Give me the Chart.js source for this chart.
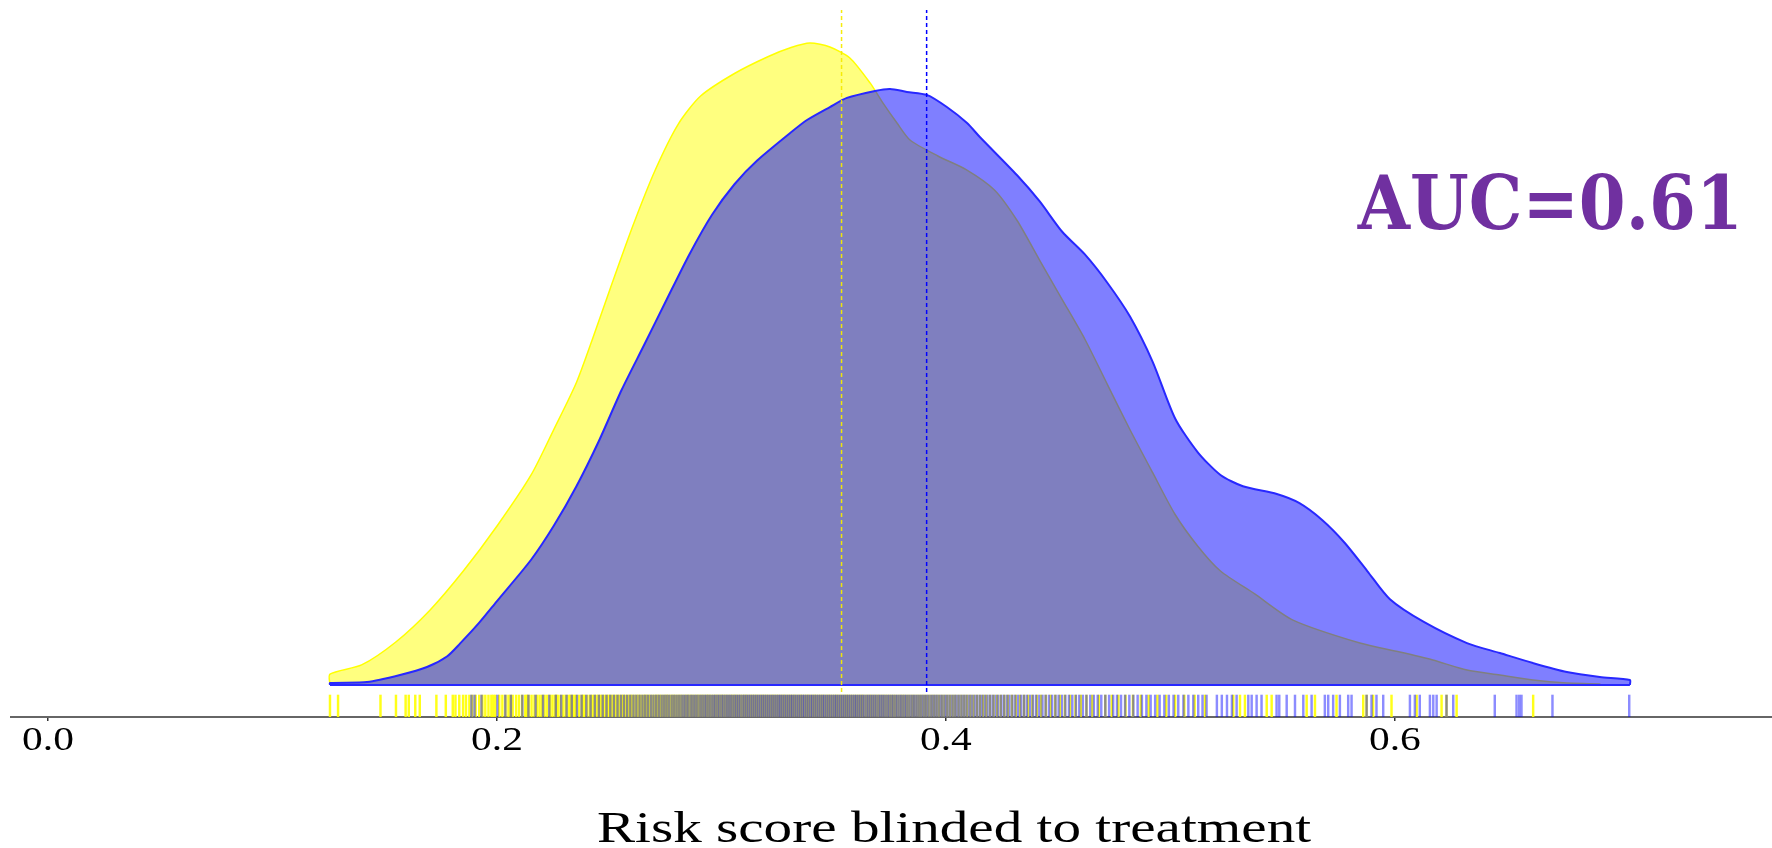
<!DOCTYPE html>
<html>
<head>
<meta charset="utf-8">
<title>Risk score density</title>
<script src="https://cdn.jsdelivr.net/npm/chart.js@4.4.1/dist/chart.umd.min.js"></script>
<style>
  html, body { margin: 0; padding: 0; background: #fff; }
  #chart { display: block; }
</style>
</head>
<body>
<canvas id="chart" width="1772" height="848"></canvas>
<script>
// density curve of the yellow group (risk score, density)
const yellowX = [0.1256, 0.1256, 0.1397, 0.1548, 0.1699, 0.1850, 0.2001, 0.2152, 0.2253, 0.2354, 0.2429, 0.2505, 0.2605, 0.2706, 0.2807, 0.2907, 0.3058, 0.3209, 0.3310, 0.3394, 0.3483, 0.3572, 0.3662, 0.3719, 0.3782, 0.3840, 0.3964, 0.4090, 0.4216, 0.4317, 0.4417, 0.4518, 0.4619, 0.4719, 0.4820, 0.4921, 0.5021, 0.5122, 0.5223, 0.5374, 0.5546, 0.5844, 0.6022, 0.6169, 0.6321, 0.6468, 0.6615, 0.6766, 0.6913, 0.6913];
const yellowY = [0, 0.077, 0.141, 0.300, 0.521, 0.799, 1.116, 1.472, 1.790, 2.120, 2.440, 2.780, 3.216, 3.612, 3.929, 4.127, 4.285, 4.404, 4.467, 4.499, 4.471, 4.394, 4.219, 4.079, 3.938, 3.819, 3.707, 3.612, 3.469, 3.255, 2.978, 2.701, 2.423, 2.107, 1.789, 1.488, 1.195, 0.973, 0.799, 0.640, 0.455, 0.294, 0.231, 0.175, 0.105, 0.070, 0.035, 0.014, 0.007, 0];

// density curve of the blue group
const blueX = [0.1256, 0.1256, 0.1421, 0.1568, 0.1688, 0.1777, 0.1835, 0.1920, 0.2001, 0.2152, 0.2253, 0.2354, 0.2454, 0.2555, 0.2656, 0.2756, 0.2857, 0.2958, 0.3058, 0.3159, 0.3310, 0.3381, 0.3483, 0.3559, 0.3684, 0.3751, 0.3826, 0.3915, 0.4004, 0.4094, 0.4151, 0.4317, 0.4417, 0.4518, 0.4619, 0.4719, 0.4820, 0.4921, 0.5021, 0.5122, 0.5223, 0.5323, 0.5474, 0.5575, 0.5676, 0.5776, 0.5877, 0.5978, 0.6129, 0.6321, 0.6468, 0.6615, 0.6766, 0.6913, 0.7047, 0.7047];
const blueY = [0, 0.014, 0.021, 0.070, 0.126, 0.200, 0.290, 0.435, 0.590, 0.878, 1.116, 1.393, 1.710, 2.067, 2.384, 2.701, 3.017, 3.295, 3.509, 3.675, 3.873, 3.959, 4.050, 4.114, 4.163, 4.177, 4.156, 4.135, 4.050, 3.938, 3.840, 3.572, 3.390, 3.176, 3.017, 2.819, 2.582, 2.265, 1.868, 1.631, 1.472, 1.393, 1.338, 1.274, 1.156, 0.997, 0.799, 0.601, 0.442, 0.294, 0.224, 0.154, 0.091, 0.056, 0.035, 0];

// group means (dashed lines)
const yellowMean = 0.3535;
const blueMean = 0.3914;

// individual scores shown as rug
const yellowRug = [0.1256, 0.1292, 0.1481, 0.1550, 0.1593, 0.1607, 0.1636, 0.1656, 0.1730, 0.1772, 0.1803, 0.1815, 0.1832, 0.1849,
  0.1862, 0.1890, 0.1921, 0.1948, 0.1975, 0.1993, 0.2024, 0.2051, 0.2070, 0.2098, 0.2126, 0.2141, 0.2167, 0.2190, 0.2212, 0.2236, 0.2258, 0.2271, 0.2295, 0.2318,
  0.2334, 0.2352, 0.2377, 0.2391, 0.2415, 0.2433, 0.2452, 0.2468, 0.2487, 0.2503, 0.2521, 0.2538, 0.2556, 0.2571, 0.2589, 0.2604, 0.2622, 0.2637, 0.2655, 0.2668,
  0.2684, 0.2702, 0.2716, 0.2731, 0.2749, 0.2763, 0.2780, 0.2794, 0.2811, 0.2826, 0.2843, 0.2857, 0.2872, 0.2889, 0.2903, 0.2918, 0.2935, 0.2948, 0.2964, 0.2979,
  0.2995, 0.3009, 0.3024, 0.3041, 0.3055, 0.3069, 0.3086, 0.3101, 0.3115, 0.3132, 0.3146, 0.3161, 0.3178, 0.3192, 0.3207, 0.3224, 0.3238, 0.3253, 0.3270, 0.3284,
  0.3301, 0.3315, 0.3330, 0.3347, 0.3361, 0.3378, 0.3392, 0.3409, 0.3423, 0.3440, 0.3455, 0.3472, 0.3486, 0.3503, 0.3518, 0.3535, 0.3552, 0.3566, 0.3583, 0.3600,
  0.3617, 0.3632, 0.3651, 0.3668, 0.3686, 0.3703, 0.3722, 0.3740, 0.3759, 0.3777, 0.3798, 0.3816, 0.3837, 0.3858, 0.3879, 0.3901, 0.3923, 0.3946, 0.3969, 0.3993,
  0.4018, 0.4042, 0.4069, 0.4095, 0.4123, 0.4152, 0.4180, 0.4212, 0.4244, 0.4276, 0.4311, 0.4348, 0.4385, 0.4424, 0.4466, 0.4508, 0.4553, 0.4601, 0.4652, 0.4710,
  0.4768, 0.4833, 0.4903, 0.4981, 0.5062,
  0.1877, 0.1905, 0.1935, 0.1962, 0.1984, 0.2010, 0.2038, 0.2061, 0.2085, 0.2112, 0.2133, 0.2154, 0.2179, 0.2201, 0.2224, 0.2247, 0.2264, 0.2283, 0.2306, 0.2326,
  0.2343, 0.2365, 0.2384, 0.2403, 0.2424, 0.2443, 0.2460, 0.2478, 0.2495, 0.2512, 0.2530, 0.2547, 0.2563, 0.2580, 0.2597, 0.2613, 0.2630, 0.2646, 0.2661, 0.2676,
  0.2693, 0.2709, 0.2724, 0.2740, 0.2756, 0.2772, 0.2787, 0.2803, 0.2818, 0.2835, 0.2850, 0.2865, 0.2881, 0.2896, 0.2911, 0.2927, 0.2941, 0.2956, 0.2972, 0.2987,
  0.3002, 0.3017, 0.3033, 0.3048, 0.3062, 0.3078, 0.3094, 0.3108, 0.3124, 0.3139, 0.3154, 0.3170, 0.3185, 0.3200, 0.3216, 0.3231, 0.3246, 0.3262, 0.3277, 0.3293,
  0.3308, 0.3323, 0.3339, 0.3354, 0.3370, 0.3385, 0.3401, 0.3416, 0.3432, 0.3448, 0.3464, 0.3479, 0.3495, 0.3511, 0.3527, 0.3544, 0.3559, 0.3575, 0.3592, 0.3609,
  0.3625, 0.3642, 0.3660, 0.3677, 0.3695, 0.3713, 0.3731, 0.3750, 0.3768, 0.3788, 0.3807, 0.3827, 0.3848, 0.3869, 0.3890, 0.3912, 0.3935, 0.3958, 0.3981, 0.4006,
  0.4030, 0.4056, 0.4082, 0.4109, 0.4138, 0.4166, 0.4196, 0.4228, 0.4260, 0.4294, 0.4330, 0.4366, 0.4405, 0.4445, 0.4487, 0.4530, 0.4577, 0.4626, 0.4681, 0.4739,
  0.4800, 0.4868, 0.4942, 0.5021, 0.5108,
  0.5154, 0.5280, 0.5310, 0.5332, 0.5429, 0.5451, 0.5607, 0.5644, 0.5740, 0.5859, 0.5874, 0.5903, 0.5985, 0.6097, 0.6208, 0.6230, 0.6275, 0.6616];
const blueRug = [0.1886, 0.1900, 0.1931, 0.2002, 0.2037, 0.2062, 0.2113,
  0.2140, 0.2205, 0.2262, 0.2310, 0.2356, 0.2398, 0.2436, 0.2471, 0.2505, 0.2537, 0.2566, 0.2594, 0.2621, 0.2648, 0.2672, 0.2697, 0.2721, 0.2744, 0.2766, 0.2789,
  0.2811, 0.2832, 0.2852, 0.2873, 0.2893, 0.2914, 0.2933, 0.2953, 0.2972, 0.2991, 0.3010, 0.3029, 0.3047, 0.3066, 0.3084, 0.3103, 0.3121, 0.3139, 0.3157, 0.3175,
  0.3193, 0.3211, 0.3229, 0.3247, 0.3264, 0.3282, 0.3300, 0.3317, 0.3335, 0.3353, 0.3370, 0.3388, 0.3405, 0.3423, 0.3441, 0.3458, 0.3476, 0.3494, 0.3511, 0.3529,
  0.3547, 0.3565, 0.3583, 0.3600, 0.3618, 0.3636, 0.3655, 0.3673, 0.3691, 0.3710, 0.3728, 0.3747, 0.3766, 0.3785, 0.3804, 0.3823, 0.3843, 0.3862, 0.3882, 0.3902,
  0.3922, 0.3943, 0.3963, 0.3984, 0.4005, 0.4027, 0.4048, 0.4070, 0.4092, 0.4115, 0.4138, 0.4161, 0.4185, 0.4209, 0.4233, 0.4258, 0.4283, 0.4309, 0.4335, 0.4361,
  0.4388, 0.4416, 0.4444, 0.4473, 0.4502, 0.4532, 0.4563, 0.4594, 0.4626, 0.4659, 0.4692, 0.4727, 0.4762, 0.4798, 0.4835, 0.4873, 0.4912, 0.4952, 0.4993, 0.5035,
  0.5080, 0.5124,
  0.2172, 0.2233, 0.2286, 0.2333, 0.2377, 0.2417, 0.2454, 0.2488, 0.2521, 0.2552, 0.2580, 0.2608, 0.2635, 0.2660, 0.2685, 0.2709, 0.2733, 0.2755, 0.2778, 0.2800,
  0.2822, 0.2842, 0.2863, 0.2883, 0.2904, 0.2924, 0.2943, 0.2963, 0.2982, 0.3001, 0.3020, 0.3038, 0.3057, 0.3075, 0.3094, 0.3112, 0.3130, 0.3148, 0.3166, 0.3184,
  0.3202, 0.3220, 0.3238, 0.3256, 0.3273, 0.3291, 0.3309, 0.3326, 0.3344, 0.3362, 0.3379, 0.3397, 0.3414, 0.3432, 0.3450, 0.3467, 0.3485, 0.3503, 0.3520, 0.3538,
  0.3556, 0.3574, 0.3592, 0.3609, 0.3627, 0.3646, 0.3664, 0.3682, 0.3701, 0.3719, 0.3738, 0.3757, 0.3776, 0.3795, 0.3814, 0.3833, 0.3853, 0.3872, 0.3892, 0.3912,
  0.3933, 0.3953, 0.3974, 0.3995, 0.4016, 0.4038, 0.4059, 0.4081, 0.4104, 0.4127, 0.4150, 0.4173, 0.4197, 0.4221, 0.4246, 0.4271, 0.4296, 0.4322, 0.4348, 0.4375,
  0.4402, 0.4430, 0.4459, 0.4488, 0.4517, 0.4548, 0.4579, 0.4610, 0.4643, 0.4676, 0.4710, 0.4745, 0.4780, 0.4817, 0.4854, 0.4893, 0.4932, 0.4973, 0.5014, 0.5058,
  0.5102, 0.5143,
  0.5161, 0.5207, 0.5229, 0.5252, 0.5274, 0.5295, 0.5347, 0.5362, 0.5384, 0.5406, 0.5473, 0.5485, 0.5518, 0.5555, 0.5592, 0.5629, 0.5688, 0.5703, 0.5725, 0.5755,
  0.5792, 0.5807, 0.5874, 0.5896, 0.5918, 0.5948, 0.6067, 0.6089, 0.6111, 0.6156, 0.6171, 0.6186, 0.6230, 0.6260, 0.6445, 0.6542, 0.6554, 0.6564, 0.6702, 0.7044];

// axis
const xTicks = [0, 0.2, 0.4, 0.6];
const xTickLabels = ['0.0', '0.2', '0.4', '0.6'];
const xTitle = 'Risk score blinded to treatment';
const aucLabel = 'AUC=0.61';

const X_MIN = -0.0165, X_MAX = 0.768;
const Y_MIN = -0.224, Y_MAX = 4.8;
const RUG_TOP = -0.070;
const MEAN_TOP = 4.73, MEAN_BOTTOM = -0.049;

const toPoints = (xs, ys) => xs.map((x, i) => ({ x: x, y: ys[i] }));
const rugPoints = (vals) => vals.map(v => ({ x: v, y: [Y_MIN, RUG_TOP] }));

function drawStretched(ctx, text, px, py, font, sx, align) {
    ctx.save();
    ctx.translate(px, py);
    ctx.scale(sx, 1);
    ctx.font = font;
    ctx.textAlign = align || 'center';
    ctx.textBaseline = 'alphabetic';
    ctx.fillText(text, 0, 0);
    ctx.restore();
}

const textPlugin = {
    id: 'textPlugin',
    afterDraw(chart) {
        const ctx = chart.ctx;
        const x = chart.scales.x;
        const y = chart.scales.y;
        ctx.save();
        ctx.fillStyle = '#000';
        xTicks.forEach((v, i) => {
            drawStretched(ctx, xTickLabels[i], x.getPixelForValue(v), x.top + 33,
                '34px "Liberation Serif"', 1.22);
        });
        drawStretched(ctx, xTitle, x.getPixelForValue(0.4036), x.top + 125,
            '45px "Liberation Serif"', 1.27);
        ctx.fillStyle = '#7030a0';
        drawStretched(ctx, aucLabel, x.getPixelForValue(0.755), y.getPixelForValue(3.195),
            'bold 74px "DejaVu Serif"', 0.91, 'right');
        ctx.restore();
    }
};

new Chart(document.getElementById('chart'), {
    type: 'line',
    data: {
        datasets: [
            {
                label: 'yellow mean',
                data: [{ x: yellowMean, y: MEAN_BOTTOM }, { x: yellowMean, y: MEAN_TOP }],
                borderColor: 'rgba(245,235,0,0.95)',
                borderWidth: 1.5,
                borderDash: [4, 3],
                pointRadius: 0,
                fill: false,
                order: 0
            },
            {
                label: 'blue mean',
                data: [{ x: blueMean, y: MEAN_BOTTOM }, { x: blueMean, y: MEAN_TOP }],
                borderColor: '#0000ff',
                borderWidth: 1.5,
                borderDash: [4, 3],
                pointRadius: 0,
                fill: false,
                order: 0
            },
            {
                label: 'blue baseline',
                data: [{ x: blueX[0], y: 0 }, { x: blueX[blueX.length - 1], y: 0 }],
                borderColor: '#2828ff',
                borderWidth: 2,
                pointRadius: 0,
                fill: false,
                order: 1
            },
            {
                label: 'blue',
                data: toPoints(blueX, blueY),
                borderColor: '#2828ff',
                borderWidth: 2,
                backgroundColor: 'rgba(0,0,255,0.5)',
                fill: 'origin',
                tension: 0.25,
                pointRadius: 0,
                order: 2
            },
            {
                label: 'yellow',
                data: toPoints(yellowX, yellowY),
                borderColor: '#ffff00',
                borderWidth: 1.5,
                backgroundColor: 'rgba(255,255,0,0.5)',
                fill: 'origin',
                tension: 0.25,
                pointRadius: 0,
                order: 3
            },
            {
                type: 'bar',
                label: 'blue rug',
                data: rugPoints(blueRug),
                backgroundColor: 'rgba(0,0,255,0.45)',
                barThickness: 1.8,
                grouped: false,
                order: 4
            },
            {
                type: 'bar',
                label: 'yellow rug',
                data: rugPoints(yellowRug),
                backgroundColor: 'rgba(255,255,0,0.9)',
                barThickness: 1.8,
                grouped: false,
                order: 5
            }
        ]
    },
    options: {
        responsive: false,
        animation: false,
        devicePixelRatio: 1,
        layout: { padding: { left: 11, right: 0, top: 0, bottom: 0 } },
        plugins: {
            legend: { display: false },
            tooltip: { enabled: false }
        },
        scales: {
            x: {
                type: 'linear',
                min: X_MIN,
                max: X_MAX,
                offset: false,
                afterBuildTicks: (scale) => { scale.ticks = xTicks.map(v => ({ value: v })); },
                afterFit: (scale) => { scale.height = 131; },
                ticks: { display: false },
                grid: {
                    offset: false,
                    drawOnChartArea: false,
                    drawTicks: true,
                    tickLength: 4,
                    color: '#333',
                    lineWidth: 1.5
                },
                border: { display: true, color: '#666', width: 2 }
            },
            y: {
                display: false,
                min: Y_MIN,
                max: Y_MAX
            }
        }
    },
    plugins: [textPlugin]
});
</script>
</body>
</html>
